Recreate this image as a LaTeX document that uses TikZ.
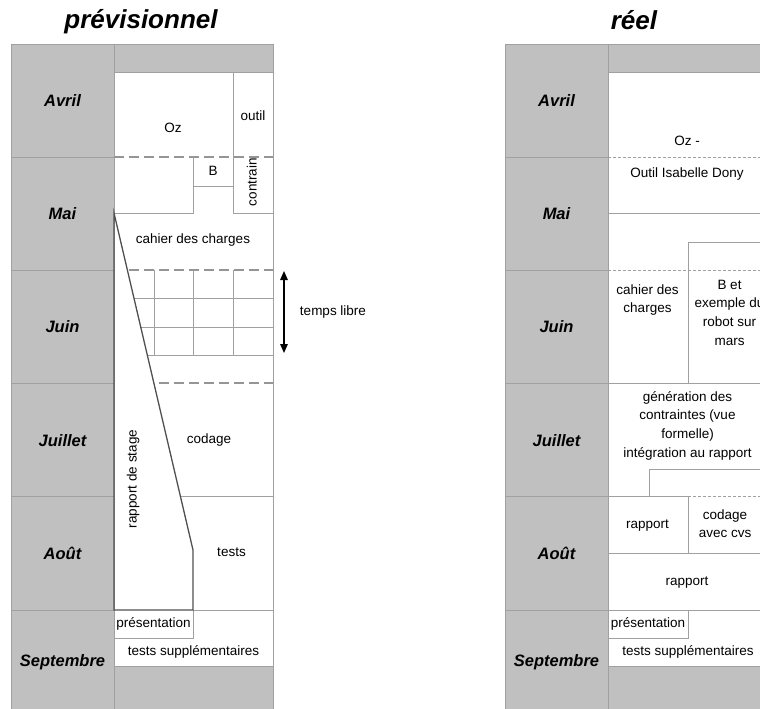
\documentclass[tikz,border=0pt]{standalone}
\usepackage{fontspec}
\setmainfont{Liberation Sans}
\usetikzlibrary{arrows.meta}

\definecolor{cellgray}{HTML}{C0C0C0}
\definecolor{rulegray}{HTML}{A0A0A0}
\definecolor{dashgray}{HTML}{959595}
\definecolor{edgegray}{HTML}{505050}

\tikzset{
  gridline/.style={draw=rulegray, line width=0.9pt},
  thickdash/.style={draw=dashgray, line width=2.2pt, dash pattern=on 10pt off 5pt},
  thindash/.style={draw=rulegray, line width=0.8pt, dash pattern=on 3pt off 2pt},
  reportedge/.style={draw=edgegray, line width=1.3pt, line join=miter},
  txt/.style={font=\fontsize{13.5}{18.7}\selectfont, text height=10pt, text depth=3pt, inner sep=0pt},
  para/.style={font=\fontsize{13.5}{18.7}\selectfont, align=center, anchor=north, inner sep=0pt},
  month/.style={font=\fontsize{16.5}{20}\selectfont\bfseries\itshape, text height=12pt, text depth=0pt, inner sep=0pt},
  heading/.style={font=\fontsize{26}{30}\selectfont\bfseries\itshape, anchor=base, inner sep=0pt},
  twoway/.style={{Triangle[length=9pt,width=7.5pt]}-{Triangle[length=9pt,width=7.5pt]}, line width=1.4pt},
}

\begin{document}
\begin{tikzpicture}[x=1pt,y=-1pt]
\useasboundingbox (0,0) rectangle (760,709);
\fill[white] (0,0) rectangle (760,709);
\clip (0,0) rectangle (760,709);

% ---------------- planned schedule ----------------
\node[heading] (titleplan) at (141,29) {prévisionnel};

\fill[cellgray] (11,44) rectangle (114,720);
\fill[cellgray] (114,44) rectangle (273,72);
\fill[cellgray] (114,666) rectangle (273,720);

\draw[gridline] (11,720) -- (11,44) -- (273,44) -- (273,720);
\draw[gridline] (114,44) -- (114,720);
\foreach \y in {157,270,383,496,610} \draw[gridline] (11,\y) -- (114,\y);
\draw[gridline] (114,72) -- (273,72);

% April / May blocks
\draw[gridline] (233,72) -- (233,213);
\draw[thickdash] (114,157) -- (273,157);
\draw[gridline] (193,157) -- (193,213) -- (114,213);
\draw[gridline] (193,186) -- (233,186);
\draw[gridline] (233,213) -- (273,213);

% blocks to the right of the report wedge
\begin{scope}
  \clip (114,213) -- (193,550) -- (300,550) -- (300,213) -- cycle;
  \draw[thickdash] (114,270) -- (273,270);
  \foreach \y in {298,327,355} \draw[gridline] (114,\y) -- (273,\y);
  \foreach \x in {154,193,233} \draw[gridline] (\x,270) -- (\x,355);
  \draw[thickdash] (114,383) -- (273,383);
  \draw[gridline] (114,496) -- (273,496);
\end{scope}

\draw[gridline] (193,610) -- (273,610);
\draw[gridline] (193,610) -- (193,638) -- (114,638);
\draw[gridline] (114,666) -- (273,666);

% report wedge
\draw[reportedge] (114,213) -- (193,550) -- (193,610) -- (114,610) -- cycle;

% free-time span
\coordinate (freetop) at (284,271);
\coordinate (freebot) at (284,353);
\draw[twoway] (freetop) -- (freebot);
\node[txt] (freetime) at (333,312) {temps libre};

% month labels
\node[month] (pavr) at (62.5,100) {Avril};
\node[month] (pmai) at (62.5,213) {Mai};
\node[month] (pjun) at (62.5,326) {Juin};
\node[month] (pjul) at (62.5,440) {Juillet};
\node[month] (paou) at (62.5,553) {Août};
\node[month] (psep) at (62.5,660) {Septembre};

% task labels
\node[txt] (poz) at (173,129) {Oz};
\node[txt] (poutil) at (253,117) {outil};
\node[txt] (pb) at (213,171.5) {B};
\node[txt, rotate=90] (pcontr) at (253,182) {contrain};
\node[txt] (pcahier) at (193,240) {cahier des charges};
\node[txt, rotate=90] (prapport) at (133,479) {rapport de stage};
\node[txt] (pcodage) at (209,440) {codage};
\node[txt] (ptests) at (231.5,553) {tests};
\node[txt] (ppres) at (153.5,624) {présentation};
\node[txt] (psupp) at (193.5,652) {tests supplémentaires};

% ---------------- actual schedule ----------------
\node[heading] (titlereal) at (634,30) {réel};

\fill[cellgray] (505,44) rectangle (608,720);
\fill[cellgray] (608,44) rectangle (780,72);
\fill[cellgray] (608,666) rectangle (780,720);

\draw[gridline] (505,720) -- (505,44) -- (780,44);
\draw[gridline] (608,44) -- (608,720);
\foreach \y in {157,270,383,496,610} \draw[gridline] (505,\y) -- (608,\y);
\draw[gridline] (608,72) -- (780,72);

\draw[thindash] (608,157) -- (780,157);
\draw[gridline] (608,213) -- (780,213);
\draw[gridline] (688,383) -- (688,242) -- (780,242);
\draw[thindash] (608,270) -- (780,270);
\draw[gridline] (608,383) -- (780,383);
\draw[gridline] (649,496) -- (649,469) -- (780,469);
\draw[gridline] (608,496) -- (688,496);
\draw[thindash] (688,496) -- (780,496);
\draw[gridline] (688,496) -- (688,553);
\draw[gridline] (608,553) -- (780,553);
\draw[gridline] (608,610) -- (780,610);
\draw[gridline] (688,610) -- (688,638) -- (608,638);
\draw[gridline] (608,666) -- (780,666);

% month labels
\node[month] (ravr) at (556.5,100) {Avril};
\node[month] (rmai) at (556.5,213) {Mai};
\node[month] (rjun) at (556.5,326) {Juin};
\node[month] (rjul) at (556.5,440) {Juillet};
\node[month] (raou) at (556.5,553) {Août};
\node[month] (rsep) at (556.5,660) {Septembre};

% task labels
\node[txt] (roz) at (687,142) {Oz -};
\node[txt] (routil) at (687,174) {Outil Isabelle Dony};
\node[para] (rcahier) at (647.5,281) {\strut cahier des\\charges};
\node[para] (rbet) at (729.5,276) {\strut B et\\exemple du\\robot sur\\mars};
\node[para] (rgen) at (687.5,388) {\strut génération des\\contraintes (vue\\formelle)\\intégration au rapport};
\node[txt] (rrap1) at (647.5,525) {rapport};
\node[para] (rcod) at (725,506) {\strut codage\\avec cvs};
\node[txt] (rrap2) at (687,582) {rapport};
\node[txt] (rpres) at (648,624) {présentation};
\node[txt] (rsupp) at (688,652) {tests supplémentaires};
\end{tikzpicture}
\end{document}
